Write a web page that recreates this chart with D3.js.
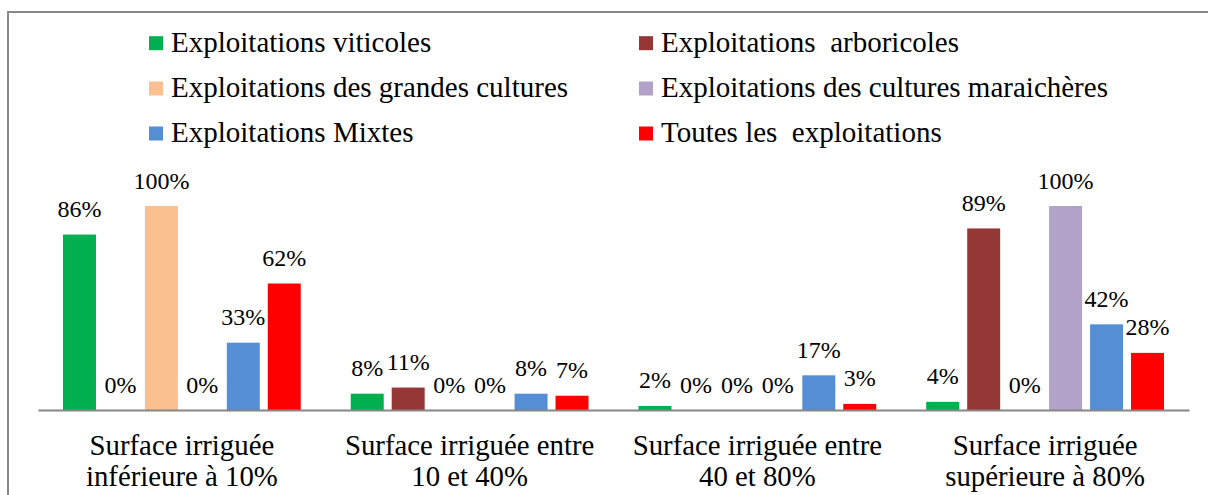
<!DOCTYPE html>
<html>
<head>
<meta charset="utf-8">
<script src="https://cdn.jsdelivr.net/npm/d3@7"></script>
</head>
<body style="margin:0">
<svg id="chart" width="1208" height="495" font-family="Liberation Serif"></svg>
<script>
// ---- data ----
const categories = [
  ["Surface irriguée", "inférieure à 10%"],
  ["Surface irriguée entre", "10 et 40%"],
  ["Surface irriguée entre", "40 et 80%"],
  ["Surface irriguée", "supérieure à 80%"]
];
const seriesNames = [
  "Exploitations viticoles",
  "Exploitations  arboricoles",
  "Exploitations des grandes cultures",
  "Exploitations des cultures maraichères",
  "Exploitations Mixtes",
  "Toutes les  exploitations"
];
const viticoles   = [86, 8, 2, 4];
const arboricoles = [0, 11, 0, 89];
const grandes     = [100, 0, 0, 0];
const maraicheres = [0, 0, 0, 100];
const mixtes      = [33, 8, 17, 42];
const toutes      = [62, 7, 3, 28];
const seriesColors = ["#00B050", "#953735", "#FAC090", "#B3A2C7", "#558ED5", "#FF0000"];

const seriesValues = [viticoles, arboricoles, grandes, maraicheres, mixtes, toutes];

const FONT = "Liberation Serif";

// ---- layout ----
const svg = d3.select("#chart");

// outer frame (right and bottom edges are outside the picture)
svg.append("rect")
  .attr("x", 8).attr("y", 12)
  .attr("width", 1300).attr("height", 600)
  .attr("fill", "none").attr("stroke", "#898989").attr("stroke-width", 2);

const x0 = d3.scaleBand()
  .domain(d3.range(categories.length))
  .range([38, 1189])
  .paddingInner(0).paddingOuter(0);

const x1 = d3.scaleBand()
  .domain(d3.range(seriesNames.length))
  .range([25, x0.bandwidth() - 25])
  .paddingInner(0.195).paddingOuter(0);

const y = d3.scaleLinear().domain([0, 100]).range([410, 206]);

// bars
const groups = svg.append("g").selectAll("g")
  .data(categories.map((c, ci) => ({ ci, vals: seriesValues.map(s => s[ci]) })))
  .join("g")
  .attr("transform", d => `translate(${x0(d.ci)},0)`);

groups.selectAll("rect")
  .data(d => d.vals.map((v, si) => ({ v, si })))
  .join("rect")
  .attr("x", d => x1(d.si))
  .attr("width", x1.bandwidth())
  .attr("y", d => y(d.v))
  .attr("height", d => y(0) - y(d.v))
  .attr("fill", d => seriesColors[d.si]);

groups.selectAll("text")
  .data(d => d.vals.map((v, si) => ({ v, si })))
  .join("text")
  .attr("x", d => x1(d.si) + x1.bandwidth() / 2)
  .attr("y", d => y(d.v) - 17.5)
  .attr("text-anchor", "middle")
  .attr("font-family", FONT)
  .attr("font-size", 24)
  .text(d => d.v + "%");

// axis baseline
const xAxis = d3.axisBottom(x0).tickSize(0).tickFormat("");
const ax = svg.append("g").attr("transform", `translate(0,${y(0)})`).call(xAxis);
ax.attr("font-family", FONT);
ax.select(".domain").attr("stroke", "#868686").attr("stroke-width", 2);

// category labels
const catG = svg.append("g");
categories.forEach((lines, ci) => {
  const t = catG.append("text")
    .attr("text-anchor", "middle")
    .attr("font-family", FONT)
    .attr("font-size", 28.8);
  lines.forEach((ln, li) => {
    t.append("tspan")
      .attr("x", x0(ci) + x0.bandwidth() / 2)
      .attr("y", 455 + li * 31)
      .text(ln);
  });
});

// legend
const legendCols = [149, 639];
const legendRows = [51.7, 97, 142];
const lg = svg.append("g");
seriesNames.forEach((name, i) => {
  const col = i % 2, row = Math.floor(i / 2);
  const lx = legendCols[col], ly = legendRows[row];
  lg.append("rect")
    .attr("x", lx).attr("y", ly - 15.5)
    .attr("width", 14).attr("height", 14)
    .attr("fill", seriesColors[i]);
  lg.append("text")
    .attr("x", lx + 22).attr("y", ly)
    .attr("font-family", FONT)
    .attr("font-size", 29)
    .attr("xml:space", "preserve")
    .text(name.replace(/  /g, " \u00A0"));
});
</script>
</body>
</html>
